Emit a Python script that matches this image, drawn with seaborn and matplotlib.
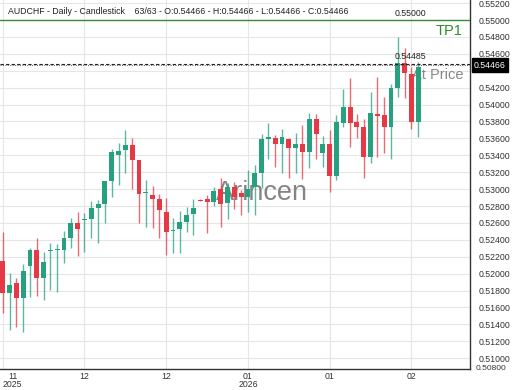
import matplotlib
matplotlib.use("Agg")
import matplotlib.pyplot as plt
import matplotlib.transforms as mtransforms
import numpy as np
import pandas as pd
import seaborn as sns

# ---------------- data ----------------
opens = [0.52154, 0.51776, 0.51894, 0.51709, 0.52091, 0.52280, 0.51953, 0.52264, 0.52282, 0.52280,
         0.52418, 0.52596, 0.52636, 0.52646, 0.52772, 0.52820, 0.53096, 0.53403, 0.53462, 0.53521,
         0.53344, 0.52955, 0.52930, 0.52879, 0.52730, 0.52510, 0.52524, 0.52615, 0.52701, 0.52871,
         0.52883, 0.52851, 0.52997, 0.52832, 0.53021, 0.52950, 0.52902, 0.53029, 0.53187, 0.53593,
         0.53601, 0.53530, 0.53593, 0.53490, 0.53534, 0.53443, 0.53829, 0.53431, 0.53534, 0.53155,
         0.53786, 0.53967, 0.53798, 0.53739, 0.53384, 0.53884, 0.53877, 0.53731, 0.54200, 0.54488,
         0.54357, 0.53798, 0.54466]
highs = [0.52497, 0.52012, 0.51945, 0.52115, 0.52300, 0.52418, 0.52260, 0.52359, 0.52351, 0.52509,
         0.52655, 0.52733, 0.52721, 0.52859, 0.52871, 0.53100, 0.53470, 0.53549, 0.53699, 0.53600,
         0.53350, 0.53107, 0.53037, 0.52942, 0.52891, 0.52654, 0.52745, 0.52784, 0.52879, 0.52879,
         0.52930, 0.53029, 0.53127, 0.53068, 0.53088, 0.52989, 0.53226, 0.53285, 0.53652, 0.53786,
         0.53640, 0.53707, 0.53601, 0.53660, 0.53758, 0.53896, 0.53884, 0.53628, 0.53699, 0.53877,
         0.54180, 0.54310, 0.53888, 0.53825, 0.54152, 0.54330, 0.54085, 0.54243, 0.54803, 0.54665,
         0.54448, 0.54507, 0.54466]
lows = [0.51531, 0.51334, 0.51374, 0.51314, 0.51728, 0.51736, 0.51689, 0.51807, 0.51787, 0.52130,
        0.52300, 0.52209, 0.52260, 0.52418, 0.52358, 0.52603, 0.52910, 0.53048, 0.53194, 0.52997,
        0.52603, 0.52548, 0.52536, 0.52418, 0.52220, 0.52240, 0.52240, 0.52496, 0.52457, 0.52859,
        0.52477, 0.52800, 0.52548, 0.52642, 0.52761, 0.52694, 0.52733, 0.52694, 0.53009, 0.53352,
        0.53258, 0.53195, 0.53128, 0.53195, 0.53116, 0.53246, 0.53352, 0.53266, 0.52970, 0.53108,
        0.53731, 0.53494, 0.53601, 0.53128, 0.53313, 0.53376, 0.53431, 0.53352, 0.54085, 0.54074,
        0.53707, 0.53612, 0.54466]
closes = [0.51776, 0.51862, 0.51709, 0.52036, 0.52280, 0.51953, 0.52142, 0.52276, 0.52292, 0.52418,
          0.52596, 0.52525, 0.52650, 0.52772, 0.52820, 0.53096, 0.53435, 0.53454, 0.53521, 0.53344,
          0.52942, 0.52962, 0.52879, 0.52753, 0.52496, 0.52522, 0.52615, 0.52694, 0.52772, 0.52863,
          0.52851, 0.52977, 0.52824, 0.53021, 0.52902, 0.52902, 0.52997, 0.53187, 0.53593, 0.53620,
          0.53530, 0.53612, 0.53490, 0.53534, 0.53443, 0.53829, 0.53652, 0.53534, 0.53155, 0.53798,
          0.53967, 0.53786, 0.53739, 0.53376, 0.53896, 0.53865, 0.53739, 0.54200, 0.54488, 0.54369,
          0.53798, 0.54450, 0.54466]

x_tick_pos = [0, 12, 24, 36, 48, 60]
x_tick_labels = ["11\n2025", "12", "12", "01\n2026", "01", "02"]
y_ticks = [0.510, 0.512, 0.514, 0.516, 0.518, 0.520, 0.522, 0.524, 0.526, 0.528, 0.530,
           0.532, 0.534, 0.536, 0.538, 0.540, 0.542, 0.544, 0.546, 0.548, 0.550, 0.552]
tp1_level = 0.55000
alert_level = 0.54485
last_price = 0.54466
bottom_label = "0.50800"
title_text = "AUDCHF - Daily - Candlestick    63/63 - O:0.54466 - H:0.54466 - L:0.54466 - C:0.54466"

# ---------------- style ----------------
sns.set_theme(style="whitegrid")
plt.rcParams['font.family'] = ['Liberation Sans', 'DejaVu Sans']

UP = '#26a07e'
DOWN = '#e53945'

df = pd.DataFrame({"open": opens, "high": highs, "low": lows, "close": closes})
df["idx"] = np.arange(len(df))
df["up"] = df["close"] >= df["open"]
df["color"] = np.where(df["up"], UP, DOWN)
df["bottom"] = df[["open", "close"]].min(axis=1)
df["height"] = (df["close"] - df["open"]).abs().clip(lower=0.00007)

fig = plt.figure(figsize=(5.2, 3.9), dpi=100)
ax = fig.add_axes([0, 21 / 390, 470 / 520, 369 / 390])

# wicks
ax.vlines(df["idx"], df["low"], df["high"], colors=df["color"], linewidth=1.0, alpha=0.75, zorder=3)
# bodies
ax.bar(df["idx"], df["height"], bottom=df["bottom"], width=0.72, color=df["color"],
       linewidth=0, zorder=4)

ax.set_xlim(-0.4, 68.6)
ax.set_ylim(0.50872, 0.55237)

# axes / grid
ax.grid(True, color='#e6e6e6', linewidth=0.8, zorder=0)
for s in ["left", "top"]:
    ax.spines[s].set_visible(False)
for s in ["right", "bottom"]:
    ax.spines[s].set_color('#333333')
    ax.spines[s].set_linewidth(1.0)

ax.yaxis.tick_right()
ax.set_yticks(y_ticks)
# the label under the current-price box is hidden by it
ax.set_yticklabels(["" if abs(v - 0.544) < 1e-9 else f"{v:.5f}" for v in y_ticks])
ax.tick_params(axis='y', length=0, pad=6, labelsize=6.3, labelcolor='#333333')
ax.set_xticks(x_tick_pos)
ax.set_xticklabels(x_tick_labels)
ax.tick_params(axis='x', length=0, pad=2, labelsize=6.3, labelcolor='#333333')
first = ax.get_xticklabels()[0]
first.set_ha('left')
first.set_multialignment('center')
for lab in ax.get_xticklabels():
    lab.set_linespacing(0.95)

# bottom clamped label
ax.text(1.0 + 6 / 470, 0.002, bottom_label, transform=ax.transAxes, ha='left', va='center',
        fontsize=6.0, color='#333333', clip_on=False)

# horizontal levels
ax.axhline(tp1_level, color='#3a8a3a', linewidth=1.0, zorder=5)
ax.axhline(alert_level, color='#222222', linewidth=0.8, linestyle=(0, (3, 2)), zorder=5)
ax.axhline(last_price, color='#555555', linewidth=0.7, linestyle=(0, (1, 1.5)), zorder=5)

blend = mtransforms.blended_transform_factory(ax.transAxes, ax.transData)
ax.text(395 / 470, tp1_level + 0.00028, "0.55000", transform=blend, ha='left', va='bottom',
        fontsize=6.3, color='#222222', zorder=6)
ax.text(463 / 470, tp1_level - 0.00050, "TP1", transform=blend, ha='right', va='top',
        fontsize=10.5, color='#2e8b2e', zorder=6)
ax.text(395 / 470, alert_level + 0.00028, "0.54485", transform=blend, ha='left', va='bottom',
        fontsize=6.3, color='#222222', zorder=6)
ax.text(463 / 470, alert_level - 0.00050, "At Price", transform=blend, ha='right', va='top',
        fontsize=10.5, color='#888888', zorder=2)

# current price box on axis
ax.text(1.0 + 4 / 470, last_price, "0.54466", transform=blend, ha='left', va='center',
        fontsize=6.3, color='white', zorder=10, clip_on=False,
        bbox=dict(boxstyle='square,pad=0.25', facecolor='black', edgecolor='black'))

# title
ax.text(8 / 470, 1 - 12 / 369, title_text, transform=ax.transAxes, ha='left', va='center',
        fontsize=6.3, color='#222222', zorder=6)

# watermark
ax.text(261.5 / 470, 0.477, "Arincen", transform=ax.transAxes, ha='center', va='center',
        fontsize=19.5, color='#666666', alpha=0.8, zorder=2)

fig.savefig("out.png", dpi=100)
